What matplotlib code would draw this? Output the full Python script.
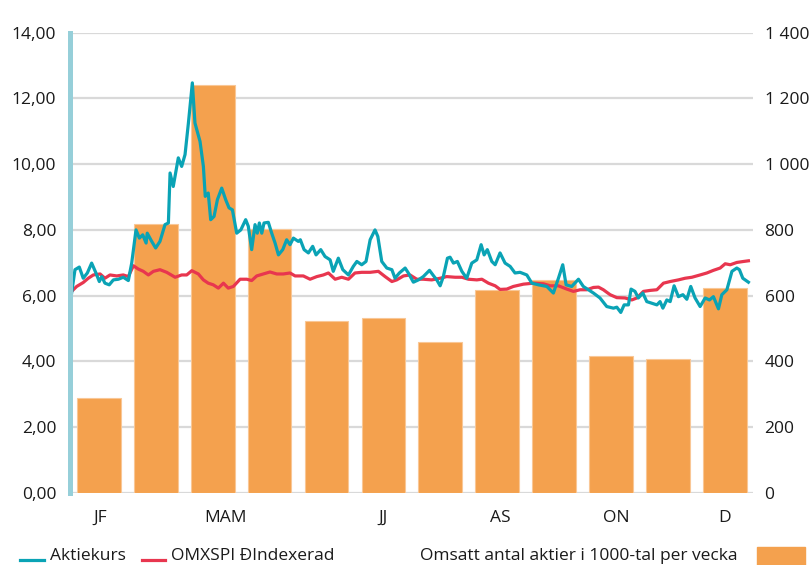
import matplotlib
matplotlib.use("Agg")
import matplotlib.pyplot as plt
from matplotlib.lines import Line2D
from matplotlib.patches import Rectangle

plt.rcParams["font.family"] = ["Open Sans", "DejaVu Sans"]

# -------------------
# Data
# -------------------
# Aktiekurs (left axis, kr), x = day of year
kurs_day = [0.7, 2.5, 4.8, 6.9, 9.1, 11.4, 13.7, 15.5, 16.8, 18.5, 20.8, 23.0, 25.7, 28.3,
            31.0, 32.8, 35.1, 36.9, 38.7, 40.5, 41.1, 43.5, 45.6, 47.9, 50.6, 52.4, 53.3,
            55.0, 57.7, 59.5, 61.3, 63.1, 65.2, 66.6, 69.3, 71.1, 72.1, 73.7, 75.0, 76.8,
            78.6, 80.9, 83.0, 84.8, 86.6, 88.9, 91.1, 93.7, 95.1, 96.9, 98.7, 99.9, 101.0,
            102.3, 103.5, 105.8, 107.6, 109.4, 111.2, 113.5, 115.6, 117.4, 119.2, 121.8,
            122.9, 124.9, 127.2, 129.5, 131.3, 133.8, 136.1, 138.8, 140.5, 143.2, 145.6,
            148.6, 151.2, 153.1, 155.7, 158.0, 160.2, 162.8, 164.3, 166.4, 169.1, 171.8,
            173.5, 175.8, 178.9, 180.6, 183.3, 186.0, 188.6, 191.9, 194.4, 195.8, 197.6,
            199.3, 201.5, 202.9, 204.7, 206.8, 209.2, 211.8, 214.5, 217.2, 219.5, 221.1,
            222.8, 225.2, 227.0, 229.6, 232.3, 235.0, 237.6, 240.3, 243.9, 246.6, 250.1,
            254.6, 258.1, 260.8, 263.1, 264.9, 267.9, 271.5, 274.1, 276.8, 279.5, 283.0,
            286.6, 290.2, 292.0, 294.1, 295.9, 298.2, 299.6, 301.7, 303.5, 305.9, 308.0,
            310.7, 313.4, 315.1, 316.6, 318.7, 320.5, 322.6, 324.9, 327.3, 329.4, 331.5,
            333.8, 336.5, 339.2, 341.5, 343.6, 346.3, 348.1, 350.8, 353.5, 356.1, 357.5,
            359.3, 362.3]
kurs = [6.08, 6.79, 6.87, 6.53, 6.69, 6.99, 6.69, 6.43, 6.58, 6.38, 6.33, 6.48, 6.50, 6.56,
        6.46, 6.99, 8.00, 7.75, 7.85, 7.60, 7.90, 7.65, 7.45, 7.65, 8.16, 8.21, 9.73,
        9.32, 10.19, 9.93, 10.29, 11.25, 12.47, 11.25, 10.69, 9.93, 9.02, 9.12, 8.31, 8.41,
        8.92, 9.27, 8.92, 8.67, 8.61, 7.90, 8.00, 8.31, 8.11, 7.40, 8.16, 7.90, 8.21,
        7.90, 8.21, 8.23, 7.90, 7.60, 7.24, 7.40, 7.70, 7.55, 7.75, 7.65,
        7.70, 7.40, 7.30, 7.50, 7.24, 7.40, 7.19, 7.09, 6.74, 7.14, 6.79,
        6.63, 6.89, 7.04, 6.94, 7.04, 7.70, 8.00, 7.80, 7.04, 6.84, 6.79,
        6.53, 6.69, 6.84, 6.69, 6.41, 6.48, 6.58, 6.77, 6.58, 6.48, 6.30,
        6.58, 7.14, 7.17, 6.99, 7.04, 6.74, 6.53, 6.99, 7.09, 7.55, 7.24,
        7.40, 7.04, 6.94, 7.30, 6.99, 6.89, 6.69, 6.71, 6.63, 6.38, 6.33,
        6.28, 6.08, 6.53, 6.94, 6.33, 6.28, 6.50, 6.28, 6.18, 6.08, 5.93,
        5.67, 5.62, 5.65, 5.49, 5.72, 5.72, 6.20, 6.13, 5.93, 6.08, 5.82,
        5.77, 5.72, 5.82, 5.62, 5.87, 5.82, 6.30, 5.97, 6.03, 5.89, 6.28,
        5.93, 5.67, 5.93, 5.87, 5.97, 5.60, 6.03, 6.18, 6.74, 6.84, 6.79,
        6.53, 6.41]

# OMXSPI indexerad (left axis), x = day of year
omx_day = [0.7, 3.4, 6.9, 9.6, 12.3, 15.9, 18.5, 21.2, 24.8, 28.3, 31.0, 33.7, 36.3, 39.0,
           41.7, 44.4, 47.9, 51.5, 56.0, 59.5, 62.2, 64.9, 68.4, 71.1, 73.7, 76.4, 79.1,
           81.8, 84.4, 87.1, 90.7, 94.3, 96.9, 99.6, 103.1, 106.7, 110.3, 113.8, 117.4,
           120.1, 122.8, 124.5, 128.1, 131.7, 135.2, 137.9, 141.5, 145.0, 148.6, 152.1,
           155.7, 160.2, 164.6, 168.2, 171.8, 174.4, 178.0, 181.5, 185.1, 188.6, 193.1,
           197.6, 201.1, 205.6, 209.2, 212.7, 217.2, 219.9, 223.4, 227.0, 229.6, 233.2,
           236.7, 242.1, 247.4, 252.8, 256.4, 260.8, 265.3, 268.8, 272.4, 276.0, 279.5,
           282.2, 284.8, 288.4, 292.0, 296.4, 300.0, 302.7, 306.2, 309.8, 313.4, 316.9,
           320.5, 324.9, 328.5, 332.1, 336.5, 340.1, 343.6, 347.2, 349.9, 352.6, 356.1,
           359.7, 362.3]
omx = [6.13, 6.28, 6.40, 6.53, 6.63, 6.66, 6.53, 6.63, 6.60, 6.63, 6.58, 6.91, 6.81, 6.74,
       6.63, 6.74, 6.79, 6.71, 6.56, 6.63, 6.63, 6.76, 6.66, 6.48, 6.38, 6.33, 6.23,
       6.38, 6.23, 6.28, 6.50, 6.50, 6.46, 6.60, 6.66, 6.72, 6.66, 6.66, 6.69,
       6.60, 6.60, 6.60, 6.50, 6.58, 6.63, 6.69, 6.50, 6.56, 6.50, 6.69,
       6.71, 6.71, 6.74, 6.58, 6.43, 6.48, 6.60, 6.63, 6.50, 6.50, 6.48,
       6.53, 6.58, 6.56, 6.56, 6.50, 6.48, 6.50, 6.38, 6.30, 6.19, 6.20,
       6.28, 6.35, 6.38, 6.36, 6.30, 6.30, 6.20, 6.13, 6.18, 6.18, 6.25,
       6.26, 6.18, 6.03, 5.94, 5.93, 5.87, 5.93, 6.13, 6.16, 6.18, 6.38,
       6.43, 6.48, 6.53, 6.56, 6.63, 6.69, 6.77, 6.84, 6.97, 6.94, 7.01,
       7.04, 7.06]

# Omsatt antal aktier i 1000-tal (right axis), one bar per month
bar_month = list(range(12))
volume = [288, 819, 1242, 803, 523, 533, 460, 616, 648, 417, 407, 623]

tick_days = [15.9, 82.7, 167.1, 229.6, 291.6, 349.3]
tick_labels = ["JF", "MAM", "JJ", "AS", "ON", "D"]

left_ticks = [0, 2, 4, 6, 8, 10, 12, 14]
right_ticks = [0, 200, 400, 600, 800, 1000, 1200, 1400]

TEAL = "#0aa3b5"
RED = "#e8364f"
ORANGE = "#f4a14e"
GRID = "#d9d9d9"
TXT = "#1a1a1a"
FS = 12.5

# -------------------
# Plot
# -------------------
fig = plt.figure(figsize=(8.1, 5.65), dpi=100)
ax = fig.add_axes([0.0868, 0.1274, 0.8434, 0.8150])
ax2 = ax.twinx()
ax.set_zorder(ax2.get_zorder() + 1)
ax.patch.set_visible(False)

month_len = 365 / 12
centers = [(m + 0.5) * month_len for m in bar_month]
ax2.bar(centers, volume, width=0.77 * month_len, color=ORANGE,
        edgecolor="#f9c796", linewidth=0.8, zorder=2)
ax2.set_ylim(0, 1400)
ax2.set_yticks(right_ticks)
ax2.set_yticklabels([f"{v:,}".replace(",", " ") for v in right_ticks])
ax2.yaxis.grid(True, color=GRID, linewidth=1.6, zorder=0)
ax2.set_axisbelow(True)

ax.plot(omx_day, omx, color=RED, linewidth=2.3, solid_joinstyle="round")
ax.plot(kurs_day, kurs, color=TEAL, linewidth=2.3, solid_joinstyle="round")
ax.set_ylim(0, 14)
ax.set_yticks(left_ticks)
ax.set_yticklabels([f"{v:.2f}".replace(".", ",") for v in left_ticks])
ax.set_xlim(0, 365)
ax.set_xticks(tick_days)
ax.set_xticklabels(tick_labels)

for a in (ax, ax2):
    for s in a.spines.values():
        s.set_visible(False)
    a.tick_params(length=0, labelsize=FS, colors=TXT)
ax.spines["left"].set_visible(True)
ax.spines["left"].set_color("#96cfd9")
ax.spines["left"].set_linewidth(3.6)
ax.tick_params(axis="y", pad=10)
ax.tick_params(axis="x", pad=12)
ax2.tick_params(axis="y", pad=8)

# legend along the bottom edge
fig.add_artist(Line2D([20 / 810, 44 / 810], [5 / 565, 5 / 565], color=TEAL, linewidth=2.3))
fig.text(50 / 810, 9 / 565, "Aktiekurs", fontsize=FS, color=TXT, va="center")
fig.add_artist(Line2D([142 / 810, 165 / 810], [5 / 565, 5 / 565], color=RED, linewidth=2.3))
fig.text(171 / 810, 9 / 565, "OMXSPI ÐIndexerad", fontsize=FS, color=TXT, va="center")
fig.text(420 / 810, 9 / 565, "Omsatt antal aktier i 1000-tal per vecka", fontsize=FS,
         color=TXT, va="center")
fig.add_artist(Rectangle((757 / 810, 0), 48 / 810, 18 / 565, color=ORANGE,
                         transform=fig.transFigure))

fig.savefig("out.png", dpi=100)
